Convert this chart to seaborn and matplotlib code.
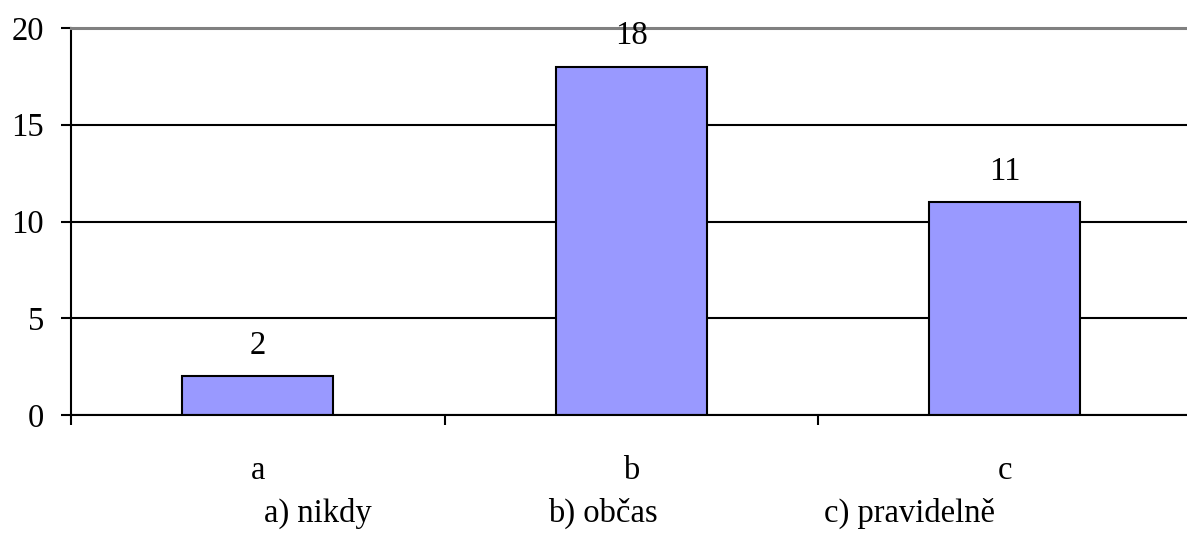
import matplotlib
matplotlib.use("Agg")
import matplotlib.pyplot as plt
import seaborn as sns
import pandas as pd

categories = ["a", "b", "c"]
values = [2, 18, 11]
legend_texts = ["a) nikdy", "b) občas", "c) pravidelně"]

sns.set_style("white")
plt.rcParams["font.family"] = ["Liberation Serif", "DejaVu Serif"]
plt.rcParams["text.color"] = "black"
plt.rcParams["xtick.color"] = "black"
plt.rcParams["ytick.color"] = "black"
plt.rcParams["xtick.labelcolor"] = "black"
plt.rcParams["ytick.labelcolor"] = "black"
FS = 23.5

df = pd.DataFrame({"cat": categories, "val": values})

fig = plt.figure(figsize=(11.87, 5.39), dpi=100)
ax = fig.add_axes([71 / 1187, 1 - 415 / 539, (1191.5 - 71) / 1187, (415 - 28) / 539])

sns.barplot(data=df, x="cat", y="val", color="#9999FF", edgecolor="black",
            linewidth=1.5, width=0.404, saturation=1, ax=ax, zorder=2)

ax.set_ylim(0, 20)
ax.set_xlim(-0.5, 2.5)
ax.set_yticks([0, 5, 10, 15, 20])
ax.set_xlabel("")
ax.set_ylabel("")

ax.set_axisbelow(True)
ax.yaxis.grid(True, color="black", linewidth=1.5)
ax.xaxis.grid(False)

for s in ["left", "bottom"]:
    ax.spines[s].set_visible(True)
    ax.spines[s].set_color("black")
    ax.spines[s].set_linewidth(1.5)
ax.spines["right"].set_visible(False)
ax.spines["top"].set_visible(True)
ax.spines["top"].set_color("#808080")
ax.spines["top"].set_linewidth(2.2)

ax.tick_params(axis="y", which="major", direction="out", length=7.5, width=1.5,
               color="black", labelcolor="black", labelsize=FS, pad=12, left=True)
ax.tick_params(axis="x", which="major", length=0, labelsize=FS, labelcolor="black", pad=29)
ax.set_xticks([-0.5, 0.5, 1.5, 2.5], minor=True)
ax.tick_params(axis="x", which="minor", direction="out", length=7.5, width=1.5,
               color="black", bottom=True)

for c in ax.containers:
    ax.bar_label(c, labels=[str(v) for v in values], padding=11, fontsize=FS, color="black")

centers = [317.5, 603, 909]
for t, cx in zip(legend_texts, centers):
    fig.text(cx / 1187, 1 - 522 / 539, t, ha="center", va="baseline",
             fontsize=FS, color="black")

fig.savefig("out.png", dpi=100)
